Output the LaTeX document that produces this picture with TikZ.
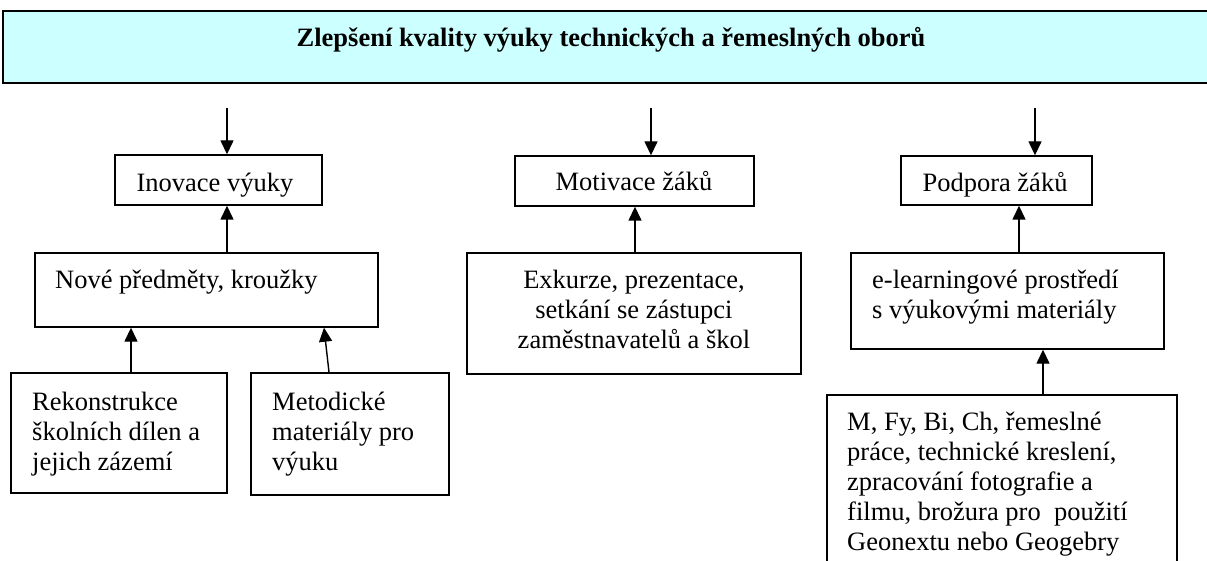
\documentclass[tikz,border=0pt]{standalone}
\usepackage{fontspec}
\setmainfont{Liberation Serif}
\usetikzlibrary{arrows.meta}
\definecolor{topfill}{HTML}{CCFFFF}
\begin{document}
\begin{tikzpicture}[x=1pt,y=-1pt,
  box/.style={draw=black, line width=1.4pt, fill=white, inner sep=0pt},
  topbox/.style={fill=topfill, inner sep=0pt},
  topedge/.style={draw=black, line width=2.4pt, line join=miter},
  txt/.style={inner sep=0pt, font=\fontsize{26.5}{30}\selectfont},
  ttl/.style={inner sep=0pt, font=\fontsize{26.5}{30}\selectfont\bfseries},
  arr/.style={line width=1.4pt, -{Triangle[length=14pt,width=13pt]}}]
\useasboundingbox (0,0) rectangle (1207,561);
% boxes
\node[topbox, minimum width=1260pt, minimum height=72pt] (top) at (633,47) {};
\draw[topedge] (top.north east) -- (top.north west) -- (top.south west) -- (top.south east);
\node[box, minimum width=207pt, minimum height=50pt] (inov) at (218.5,180) {};
\node[box, minimum width=239pt, minimum height=50pt] (motiv) at (634.5,181) {};
\node[box, minimum width=191pt, minimum height=49pt] (podp) at (996.5,180.5) {};
\node[box, minimum width=343pt, minimum height=74pt] (nove) at (206.5,290) {};
\node[box, minimum width=334pt, minimum height=121pt] (exk) at (634,313.5) {};
\node[box, minimum width=313pt, minimum height=96pt] (elearn) at (1007.5,301) {};
\node[box, minimum width=216pt, minimum height=120pt] (rek) at (119,433) {};
\node[box, minimum width=198pt, minimum height=122pt] (met) at (350,434) {};
\node[box, minimum width=350pt, minimum height=180pt] (mbox) at (1002,485) {};
% texts
\node[ttl, anchor=base] (ttitle) at (611,47) {Zlepšení kvality výuky technických a řemeslných oborů};
\node[txt, anchor=base] (tinov) at (215,192) {Inovace výuky};
\node[txt, anchor=base] (tmotiv) at (634,191) {Motivace žáků};
\node[txt, anchor=base] (tpodp) at (995,192) {Podpora žáků};
\node[txt, anchor=base west] (tnove) at (55,288) {Nové předměty, kroužky};
\node[txt, anchor=north, align=center] (texk) at (634,267) {\strut Exkurze, prezentace,\\ setkání se zástupci\\ zaměstnavatelů a škol};
\node[txt, anchor=north west, align=left] (telearn) at (872,267) {\strut e-learningové prostředí\\ s výukovými materiály};
\node[txt, anchor=north west, align=left] (trek) at (32,389) {\strut Rekonstrukce\\ školních dílen a\\ jejich zázemí};
\node[txt, anchor=north west, align=left] (tmet) at (272,389) {\strut Metodické\\ materiály pro\\ výuku};
\node[txt, anchor=north west, align=left] (tmbox) at (847,409) {\strut M, Fy, Bi, Ch, řemeslné\\ práce, technické kreslení,\\ zpracování fotografie a\\ filmu, brožura pro~ použití\\ Geonextu nebo Geogebry};
% arrow starts
\coordinate (s1) at (227,108);
\coordinate (s2) at (651,108);
\coordinate (s3) at (1035,108);
% connectors
\draw[arr] (s1) -- (s1 |- inov.north);
\draw[arr] (s2) -- (s2 |- motiv.north);
\draw[arr] (s3) -- (s3 |- podp.north);
\draw[arr] (s1 |- nove.north) -- (s1 |- inov.south);
\draw[arr] ([xshift=1pt]exk.north) -- ([xshift=1pt]exk.north |- motiv.south);
\draw[arr] ([xshift=11.5pt]elearn.north) -- ([xshift=11.5pt]elearn.north |- podp.south);
\draw[arr] ([xshift=41pt]mbox.north) -- ([xshift=41pt]mbox.north |- elearn.south);
\draw[arr] ([xshift=12pt]rek.north) -- ([xshift=12pt]rek.north |- nove.south);
\draw[arr] ([xshift=-21pt]met.north) -- ([xshift=117.5pt]nove.south);
\end{tikzpicture}
\end{document}
